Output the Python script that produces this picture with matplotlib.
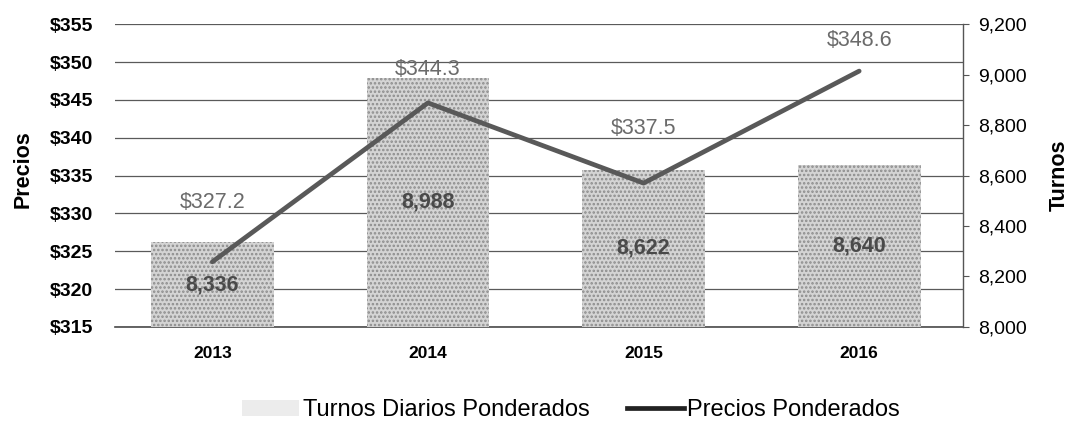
import numpy as np
import matplotlib
matplotlib.use("Agg")
import matplotlib.pyplot as plt
from matplotlib.patches import Patch
from matplotlib.lines import Line2D

plt.rcParams["font.family"] = ["Liberation Sans", "DejaVu Sans"]
plt.rcParams["hatch.linewidth"] = 1.2

# ===== datos =====
years = ["2013", "2014", "2015", "2016"]
turnos = [8336, 8988, 8622, 8640]                 # barras (eje derecho)
turnos_labels = ["8,336", "8,988", "8,622", "8,640"]
precios = [323.6, 344.6, 334.0, 348.8]            # posición de la línea (eje izquierdo)
precios_labels = ["$327.2", "$344.3", "$337.5", "$348.6"]

fig = plt.figure(figsize=(10.78, 4.24), dpi=100)
ax = fig.add_axes([0.107, 0.229, 0.786, 0.714])
ax2 = ax.twinx()   # queda por delante: barras tapan la rejilla

x = np.arange(len(years))

# --- eje izquierdo: precios + rejilla ---
ax.set_ylim(315, 355)
ax.set_yticks(np.arange(315, 356, 5))
ax.set_yticklabels([f"${v}" for v in range(315, 356, 5)], fontsize=14, fontweight="bold")
ax.tick_params(axis="y", length=0, pad=16)
ax.set_ylabel("Precios", fontsize=15.5, fontweight="bold")
ax.yaxis.set_label_coords(-0.097, 0.52)
ax.grid(axis="y", color="#5a5a5a", lw=0.9)
ax.axhline(315, color="#4a4a4a", lw=1.2, clip_on=False)

ax.set_xlim(-0.45, 3.48)
ax.set_xticks(x)
ax.set_xticklabels(years, fontsize=12.5, fontweight="bold",
                   family=["Liberation Sans Narrow", "Liberation Sans", "DejaVu Sans"])
ax.tick_params(axis="x", length=0, pad=14)

# --- eje derecho: turnos (barras) ---
ax2.bar(x, turnos, width=0.57, bottom=0, color="#d4d4d4", edgecolor="#8c8c8c",
        hatch="....", linewidth=0, zorder=2)
ax2.set_ylim(8000, 9200)
ax2.set_yticks(np.arange(8000, 9201, 200))
ax2.set_yticklabels([f"{v:,}" for v in range(8000, 9201, 200)], fontsize=14)
ax2.tick_params(axis="y", length=4, color="#555555", pad=7)
ax2.set_ylabel("Turnos", fontsize=15.5, fontweight="bold", labelpad=16)

for xi, v, lab in zip(x, turnos, turnos_labels):
    ax2.text(xi, 8000 + (v - 8000) / 2, lab, ha="center", va="center",
             fontsize=15.5, fontweight="bold", color="#4a4a4a", zorder=3)

# línea de precios (en escala del eje izquierdo, dibujada por encima de las barras)
ax2.plot(x, precios, color="#595959", lw=3.4, solid_capstyle="round",
         transform=ax.transData, zorder=4)

label_offsets = [7.9, 4.4, 7.2, 4.0]
for xi, v, lab, off in zip(x, precios, precios_labels, label_offsets):
    ax2.text(xi, v + off, lab, ha="center", va="center", fontsize=15.5,
             color="#6b6b6b", transform=ax.transData, zorder=5)

for a in (ax, ax2):
    for s in ("top", "left", "bottom", "right"):
        a.spines[s].set_visible(False)
ax2.spines["right"].set_visible(True)
ax2.spines["right"].set_color("#555555")
ax2.spines["right"].set_linewidth(1.0)

handles = [
    Patch(facecolor="#ececec", edgecolor="none", label="Turnos Diarios Ponderados"),
    Line2D([0], [0], color="#222222", lw=3.4, label="Precios Ponderados"),
]
fig.legend(handles=handles, loc="center", bbox_to_anchor=(0.53, 0.032), ncol=2,
           frameon=False, fontsize=17, handlelength=2.4, handletextpad=0.15,
           columnspacing=1.6)

fig.savefig("out.png", dpi=100)
